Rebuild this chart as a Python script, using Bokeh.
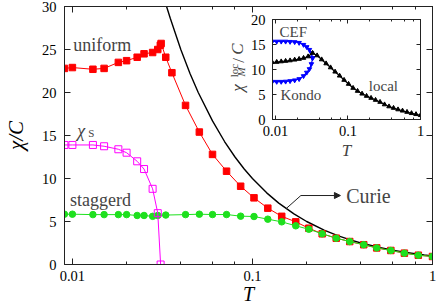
import math
from bokeh.plotting import figure
from bokeh.models import (Range1d, LogAxis, LinearAxis, LogTicker, SingleIntervalTicker,
                          NumeralTickFormatter, CustomJSTickFormatter, Label, Arrow, NormalHead)
from bokeh.embed import file_html
from bokeh.resources import INLINE

# ---------------- data ----------------
T_uniform = [0.00903, 0.0100, 0.0130, 0.0150, 0.0180, 0.0200, 0.0229, 0.0250, 0.0279, 0.0298,
             0.0308, 0.0311, 0.0330, 0.0357, 0.0425, 0.0507, 0.0600, 0.0718, 0.0860, 0.1020,
             0.1217, 0.1454, 0.1740, 0.2056, 0.2440, 0.2920, 0.3470, 0.4150, 0.4900, 0.5870,
             0.6980, 0.8340, 1.0]
chi_uniform = [22.8, 22.9, 22.7, 22.8, 23.5, 23.7, 24.1, 24.5, 24.65, 25.0,
               25.5, 25.7, 24.1, 22.3, 18.5, 15.4, 12.8, 10.85, 9.1, 7.75,
               6.55, 5.6, 4.96, 4.22, 3.57, 3.06, 2.67, 2.3, 1.93, 1.63,
               1.32, 1.08, 0.93]

T_stag = [0.00903, 0.0100, 0.0130, 0.0150, 0.0180, 0.0200, 0.0229, 0.0250, 0.0279, 0.0298,
          0.0330, 0.0425, 0.0507, 0.0600, 0.0718, 0.0860, 0.1020, 0.1217, 0.1454, 0.1740,
          0.2056, 0.2440, 0.2920, 0.3470, 0.4150, 0.4900, 0.5870, 0.6980, 0.8340, 1.0]
chi_stag = [5.85, 5.85, 5.8, 5.8, 5.8, 5.8, 5.7, 5.7, 5.6, 5.7,
            5.75, 5.8, 5.85, 5.81, 5.81, 5.62, 5.58, 5.27, 4.96, 4.5,
            4.1, 3.57, 3.06, 2.67, 2.3, 1.93, 1.63, 1.32, 1.08, 0.93]

T_s = [0.00903, 0.0100, 0.0130, 0.0150, 0.0180, 0.0200, 0.0229, 0.0250, 0.0279, 0.0298, 0.0309]
chi_s = [13.9, 13.9, 13.9, 13.75, 13.4, 13.0, 12.0, 11.1, 8.8, 5.97, 0.0]

T_curie = [0.033, 0.035, 0.04, 0.045, 0.05, 0.06, 0.07, 0.08, 0.09, 0.1, 0.12, 0.14, 0.17,
           0.2, 0.25, 0.3, 0.35, 0.4, 0.5, 0.6, 0.7, 0.8, 0.9, 1.0]
chi_curie = [30.3, 28.6, 25.0, 22.2, 20.0, 16.7, 14.3, 12.5, 11.1, 10.0, 8.33, 7.14, 5.88,
             5.0, 4.0, 3.33, 2.86, 2.5, 2.0, 1.67, 1.43, 1.25, 1.11, 1.0]

# inset: local susceptibility
T_loc = [0.0090, 0.0104, 0.0120, 0.0138, 0.0159, 0.0184, 0.0212, 0.0244, 0.0282, 0.0325,
         0.0375, 0.0433, 0.0499, 0.0575, 0.0664, 0.0766, 0.0883, 0.1019, 0.1175, 0.1355,
         0.1563, 0.1803, 0.2080, 0.2399, 0.2767, 0.3192, 0.3681, 0.4246, 0.4898, 0.5649,
         0.6516, 0.7516, 0.8670, 1.0]
chi_loc = [11.45, 11.5, 11.6, 11.7, 11.8, 11.95, 12.1, 12.3, 12.6, 13.3,
           12.8, 12.0, 11.2, 10.4, 9.55, 8.75, 7.9, 7.1, 6.3, 5.7,
           5.15, 4.7, 4.3, 3.9, 3.5, 3.0, 2.6, 2.3, 2.0, 1.75,
           1.5, 1.25, 1.05, 0.85]
T_cef = [0.0090, 0.0104, 0.0120, 0.0138, 0.0159, 0.0184, 0.0212, 0.0244, 0.0270, 0.0294, 0.0313, 0.0325]
chi_cef = [15.6, 15.6, 15.6, 15.6, 15.55, 15.5, 15.35, 14.95, 14.5, 13.95, 13.3, 12.3]
T_kondo = [0.0090, 0.0104, 0.0120, 0.0138, 0.0159, 0.0184, 0.0212, 0.0244, 0.0270, 0.0294, 0.0313, 0.0325]
chi_kondo = [7.56, 7.56, 7.56, 7.6, 7.7, 7.85, 8.1, 8.7, 9.4, 10.1, 11.1, 12.3]

RED = "#ff0000"
GREEN = "#1ee01e"
MAGENTA = "#ff00ff"
BLUE = "#0000ff"
FONT = "'Liberation Serif', serif"
AX = "#222222"


def style_axis(ax, label_size, tick_in, minor_in, show_labels=True):
    ax.axis_line_color = AX
    ax.major_tick_line_color = AX
    ax.minor_tick_line_color = AX
    ax.major_tick_in = tick_in
    ax.major_tick_out = 0
    ax.minor_tick_in = minor_in
    ax.minor_tick_out = 0
    ax.major_label_text_font = FONT
    ax.major_label_text_color = "black"
    ax.major_label_text_font_size = label_size
    if not show_labels:
        ax.formatter = CustomJSTickFormatter(code="return ' ';")
        ax.major_label_standoff = 0
        ax.major_label_text_font_size = "2px"


# ---------------- main figure ----------------
p = figure(width=436, height=307, x_axis_type="log",
           x_range=Range1d(0.00904, 1.0), y_range=Range1d(0, 30),
           output_backend="svg", toolbar_location=None,
           min_border_left=60, min_border_right=4, min_border_top=6, min_border_bottom=43)
p.styles = {"position": "absolute", "left": "0px", "top": "0px"}
p.xgrid.visible = False
p.ygrid.visible = False
p.outline_line_color = AX
p.background_fill_color = "white"
p.border_fill_color = "white"

p.xaxis.ticker = LogTicker()
p.xaxis.formatter = NumeralTickFormatter(format="0.[00]")
p.yaxis.ticker = SingleIntervalTicker(interval=5, num_minor_ticks=0)
style_axis(p.xaxis[0], "14.5px", 6, 3)
style_axis(p.yaxis[0], "14.5px", 6, 0)
p.yaxis.minor_tick_line_color = None
p.xaxis.major_label_standoff = 6
p.yaxis.major_label_standoff = 8
p.xaxis.axis_label = "T"
p.yaxis.axis_label = "χ/C"
for ax in (p.xaxis[0], p.yaxis[0]):
    ax.axis_label_text_font = FONT
    ax.axis_label_text_font_style = "italic"
    ax.axis_label_text_color = "black"
p.xaxis.axis_label_text_font_size = "20px"
p.yaxis.axis_label_text_font_size = "21px"
p.xaxis.axis_label_standoff = -1
p.yaxis.axis_label_standoff = 11

top = LogAxis(ticker=LogTicker())
style_axis(top, "14.5px", 6, 3, show_labels=False)
p.add_layout(top, "above")
right = LinearAxis(ticker=SingleIntervalTicker(interval=5, num_minor_ticks=0))
style_axis(right, "14.5px", 6, 0, show_labels=False)
right.minor_tick_line_color = None
p.add_layout(right, "right")

# Curie line
p.line(T_curie, chi_curie, line_color="black", line_width=1.4)
# uniform
p.line(T_uniform, chi_uniform, line_color=RED, line_width=1)
p.scatter(T_uniform, chi_uniform, marker="square", size=6.5, fill_color=RED, line_color=RED)
# staggered
p.line(T_stag, chi_stag, line_color=GREEN, line_width=1)
p.scatter(T_stag, chi_stag, marker="circle", size=6.5, fill_color=GREEN, line_color=GREEN)
# chi_S
p.line(T_s, chi_s, line_color=MAGENTA, line_width=1)
p.scatter(T_s, chi_s, marker="square", size=7, fill_color="white", fill_alpha=0.0,
          line_color=MAGENTA, line_width=1)

# text labels
p.add_layout(Label(x=0.0101, y=25.47, text="uniform", text_font=FONT, text_font_size="18px",
                   text_baseline="alphabetic"))
p.add_layout(Label(x=0.00971, y=7.53, text="staggerd", text_font=FONT, text_font_size="18px",
                   text_baseline="alphabetic"))
p.add_layout(Label(x=0.01065, y=15.57, text="χ", text_font=FONT, text_font_size="18px",
                   text_font_style="italic", text_baseline="alphabetic"))
p.add_layout(Label(x=0.01225, y=15.24, text="S", text_font=FONT, text_font_size="11px",
                   text_baseline="alphabetic"))
p.add_layout(Label(x=0.3317, y=7.91, text="Curie", text_font=FONT, text_font_size="20px",
                   text_baseline="alphabetic"))
p.segment(x0=[0.1535], y0=[6.48], x1=[0.1858], y1=[8.02], line_color=AX, line_width=1)
p.add_layout(Arrow(x_start=0.1858, y_start=8.02, x_end=0.308, y_end=8.02, line_color=AX,
                   line_width=1, end=NormalHead(size=6, fill_color=AX, line_color=AX)))

# rotated y label of the inset (chi_M^loc / C), placed in the main figure beside the inset
rot = math.pi / 2
lab_kw = dict(angle=rot, text_font=FONT, text_baseline="middle", text_align="center")
p.add_layout(Label(x=0.08275, y=20.52, text="χ", text_font_size="17px",
                   text_font_style="italic", **lab_kw))
p.add_layout(Label(x=0.08650, y=22.38, text="M", text_font_size="11px",
                   text_font_style="italic", **lab_kw))
p.add_layout(Label(x=0.07866, y=22.56, text="loc", text_font_size="11px", **lab_kw))
p.add_layout(Label(x=0.08328, y=23.72, text="/", text_font_size="17px", **lab_kw))
p.add_layout(Label(x=0.08275, y=25.06, text="C", text_font_size="17px",
                   text_font_style="italic", **lab_kw))

# ---------------- inset figure ----------------
q = figure(width=200, height=154, x_axis_type="log",
           x_range=Range1d(0.0091, 1.0), y_range=Range1d(0, 20),
           output_backend="svg", toolbar_location=None,
           min_border_left=44, min_border_right=8, min_border_top=11, min_border_bottom=43)
q.styles = {"position": "absolute", "left": "228px", "top": "8px", "z-index": "2"}
q.xgrid.visible = False
q.ygrid.visible = False
q.outline_line_color = AX
q.background_fill_color = "white"
q.border_fill_color = None
q.xaxis.ticker = LogTicker()
q.xaxis.formatter = NumeralTickFormatter(format="0.[00]")
q.yaxis.ticker = SingleIntervalTicker(interval=5, num_minor_ticks=0)
style_axis(q.xaxis[0], "14.5px", 4, 2)
style_axis(q.yaxis[0], "14.5px", 4, 0)
q.yaxis.minor_tick_line_color = None
q.xaxis.major_label_standoff = 6
q.yaxis.major_label_standoff = 7
q.xaxis.axis_label = "T"
q.xaxis.axis_label_text_font = FONT
q.xaxis.axis_label_text_font_style = "italic"
q.xaxis.axis_label_text_font_size = "17px"
q.xaxis.axis_label_standoff = 2

qtop = LogAxis(ticker=LogTicker())
style_axis(qtop, "14.5px", 4, 2, show_labels=False)
q.add_layout(qtop, "above")
qright = LinearAxis(ticker=SingleIntervalTicker(interval=5, num_minor_ticks=0))
style_axis(qright, "14.5px", 4, 0, show_labels=False)
qright.minor_tick_line_color = None
q.add_layout(qright, "right")

q.line(T_cef, chi_cef, line_color=BLUE, line_width=1.2)
q.scatter(T_cef, chi_cef, marker="inverted_triangle", size=4.5, fill_color=BLUE, line_color=BLUE)
q.line(T_kondo, chi_kondo, line_color=BLUE, line_width=1.2)
q.scatter(T_kondo, chi_kondo, marker="inverted_triangle", size=4.5, fill_color=BLUE, line_color=BLUE)
q.line(T_loc, chi_loc, line_color="black", line_width=1.2)
q.scatter(T_loc, chi_loc, marker="triangle", size=4.5, fill_color="black", line_color="black")

q.add_layout(Label(x=0.01135, y=17.5, text="CEF", text_font=FONT, text_font_size="15px",
                   text_baseline="alphabetic"))
q.add_layout(Label(x=0.01172, y=4.9, text="Kondo", text_font=FONT, text_font_size="15px",
                   text_baseline="alphabetic"))
q.add_layout(Label(x=0.1937, y=6.8, text="local", text_font=FONT, text_font_size="15px",
                   text_baseline="alphabetic"))

open("out.html", "w").write(file_html([p, q], INLINE))
